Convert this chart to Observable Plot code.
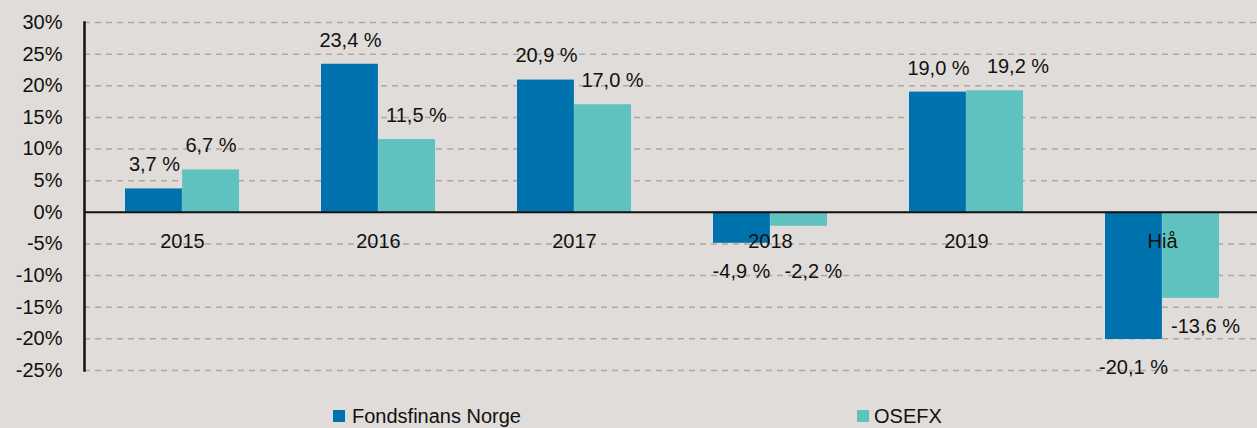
<!DOCTYPE html>
<html><head><meta charset="utf-8">
<script src="https://cdn.jsdelivr.net/npm/d3@7"></script>
<script src="https://cdn.jsdelivr.net/npm/@observablehq/plot@0.6"></script>
<style>
html,body{margin:0;padding:0;background:#dfdcd9;font-family:"Liberation Sans",Arial,sans-serif;}
#wrap{position:relative;width:1257px;height:428px;overflow:hidden;background:#dfdcd9;}
#chart svg{display:block;}
.leg{position:absolute;top:404px;font-size:20px;line-height:24px;color:#111;display:flex;align-items:center;white-space:nowrap;}
.sw{width:12px;height:12px;display:inline-block;}
</style></head><body>
<div id="wrap"><div id="chart"></div></div>
<script>
const categories = ["2015", "2016", "2017", "2018", "2019", "Hiå"];
const fondsfinans = [3.7, 23.4, 20.9, -4.9, 19.0, -20.1];
const osefx = [6.7, 11.5, 17.0, -2.2, 19.2, -13.6];
const yTicks = [-25, -20, -15, -10, -5, 0, 5, 10, 15, 20, 25, 30];
const seriesNames = ["Fondsfinans Norge", "OSEFX"];
const seriesColors = ["#0073ae", "#5fc2bf"];

const rowsA = categories.map((c, i) => ({cat: c, value: fondsfinans[i], other: osefx[i]}));
const rowsB = categories.map((c, i) => ({cat: c, value: osefx[i], other: fondsfinans[i]}));
const fmt = d => d.value.toFixed(1).replace(".", ",") + " %";
const negY = d => Math.min(d.value, -4.9);
const close = d => Math.abs(d.value - d.other) < 3;
const half = 57.1;
const fs = 20;
const txt = {fontSize: fs, fill: "#111"};

const chart = Plot.plot({
  width: 1257,
  height: 395,
  marginLeft: 84,
  marginRight: 0,
  marginTop: 22,
  marginBottom: 25,
  style: {background: "transparent", fontFamily: "'Liberation Sans', Arial, sans-serif", fontSize: "20px", color: "#111"},
  x: {domain: categories, range: [83, 1261], paddingInner: 0.418, paddingOuter: 0.209, axis: null},
  y: {domain: [-25, 30], axis: null, label: null},
  marks: [
    Plot.ruleY(yTicks.filter(t => t !== 0), {stroke: "#aea6a1", strokeWidth: 1.5, strokeDasharray: "6,5"}),
    Plot.barY(rowsA, {x: "cat", y: "value", fill: seriesColors[0], insetRight: half}),
    Plot.barY(rowsB, {x: "cat", y: "value", fill: seriesColors[1], insetLeft: half}),
    Plot.ruleY([0], {stroke: "#111", strokeWidth: 2}),
    Plot.axisY({ticks: yTicks, tickFormat: d => d + "%", tickSize: 0, tickPadding: 22, label: null, ...txt}),
    Plot.frame({anchor: "left", stroke: "#111", strokeWidth: 2.5}),
    Plot.text(categories, {x: d => d, y: 0, dy: 29, ...txt}),
    Plot.text(rowsA, {filter: d => d.value >= 0, x: "cat", y: "value", text: fmt, dx: -28, dy: -24, ...txt}),
    Plot.text(rowsA, {filter: d => d.value < 0, x: "cat", y: negY, text: fmt, dx: -29, dy: 28, ...txt}),
    Plot.text(rowsB, {filter: d => d.value >= 0 && !close(d) && d.value > d.other, x: "cat", y: "value", text: fmt, dx: 28.5, dy: -24, ...txt}),
    Plot.text(rowsB, {filter: d => d.value >= 0 && !close(d) && d.value <= d.other, x: "cat", y: "value", text: fmt, dx: 38, dy: -24, ...txt}),
    Plot.text(rowsB, {filter: d => d.value >= 0 && close(d), x: "cat", y: "value", text: fmt, dx: 51.5, dy: -24, ...txt}),
    Plot.text(rowsB, {filter: d => d.value < 0, x: "cat", y: negY, text: fmt, dx: 43, dy: 28, ...txt})
  ]
});
document.getElementById("chart").appendChild(chart);

const wrap = document.getElementById("wrap");
const legLefts = [333, 857];
const legGaps = [7, 5];
seriesNames.forEach((name, i) => {
  const el = document.createElement("div");
  el.className = "leg";
  el.style.left = legLefts[i] + "px";
  el.innerHTML = `<span class="sw" style="background:${seriesColors[i]};margin-right:${legGaps[i]}px"></span><span>${name}</span>`;
  wrap.appendChild(el);
});
</script>
</body></html>
